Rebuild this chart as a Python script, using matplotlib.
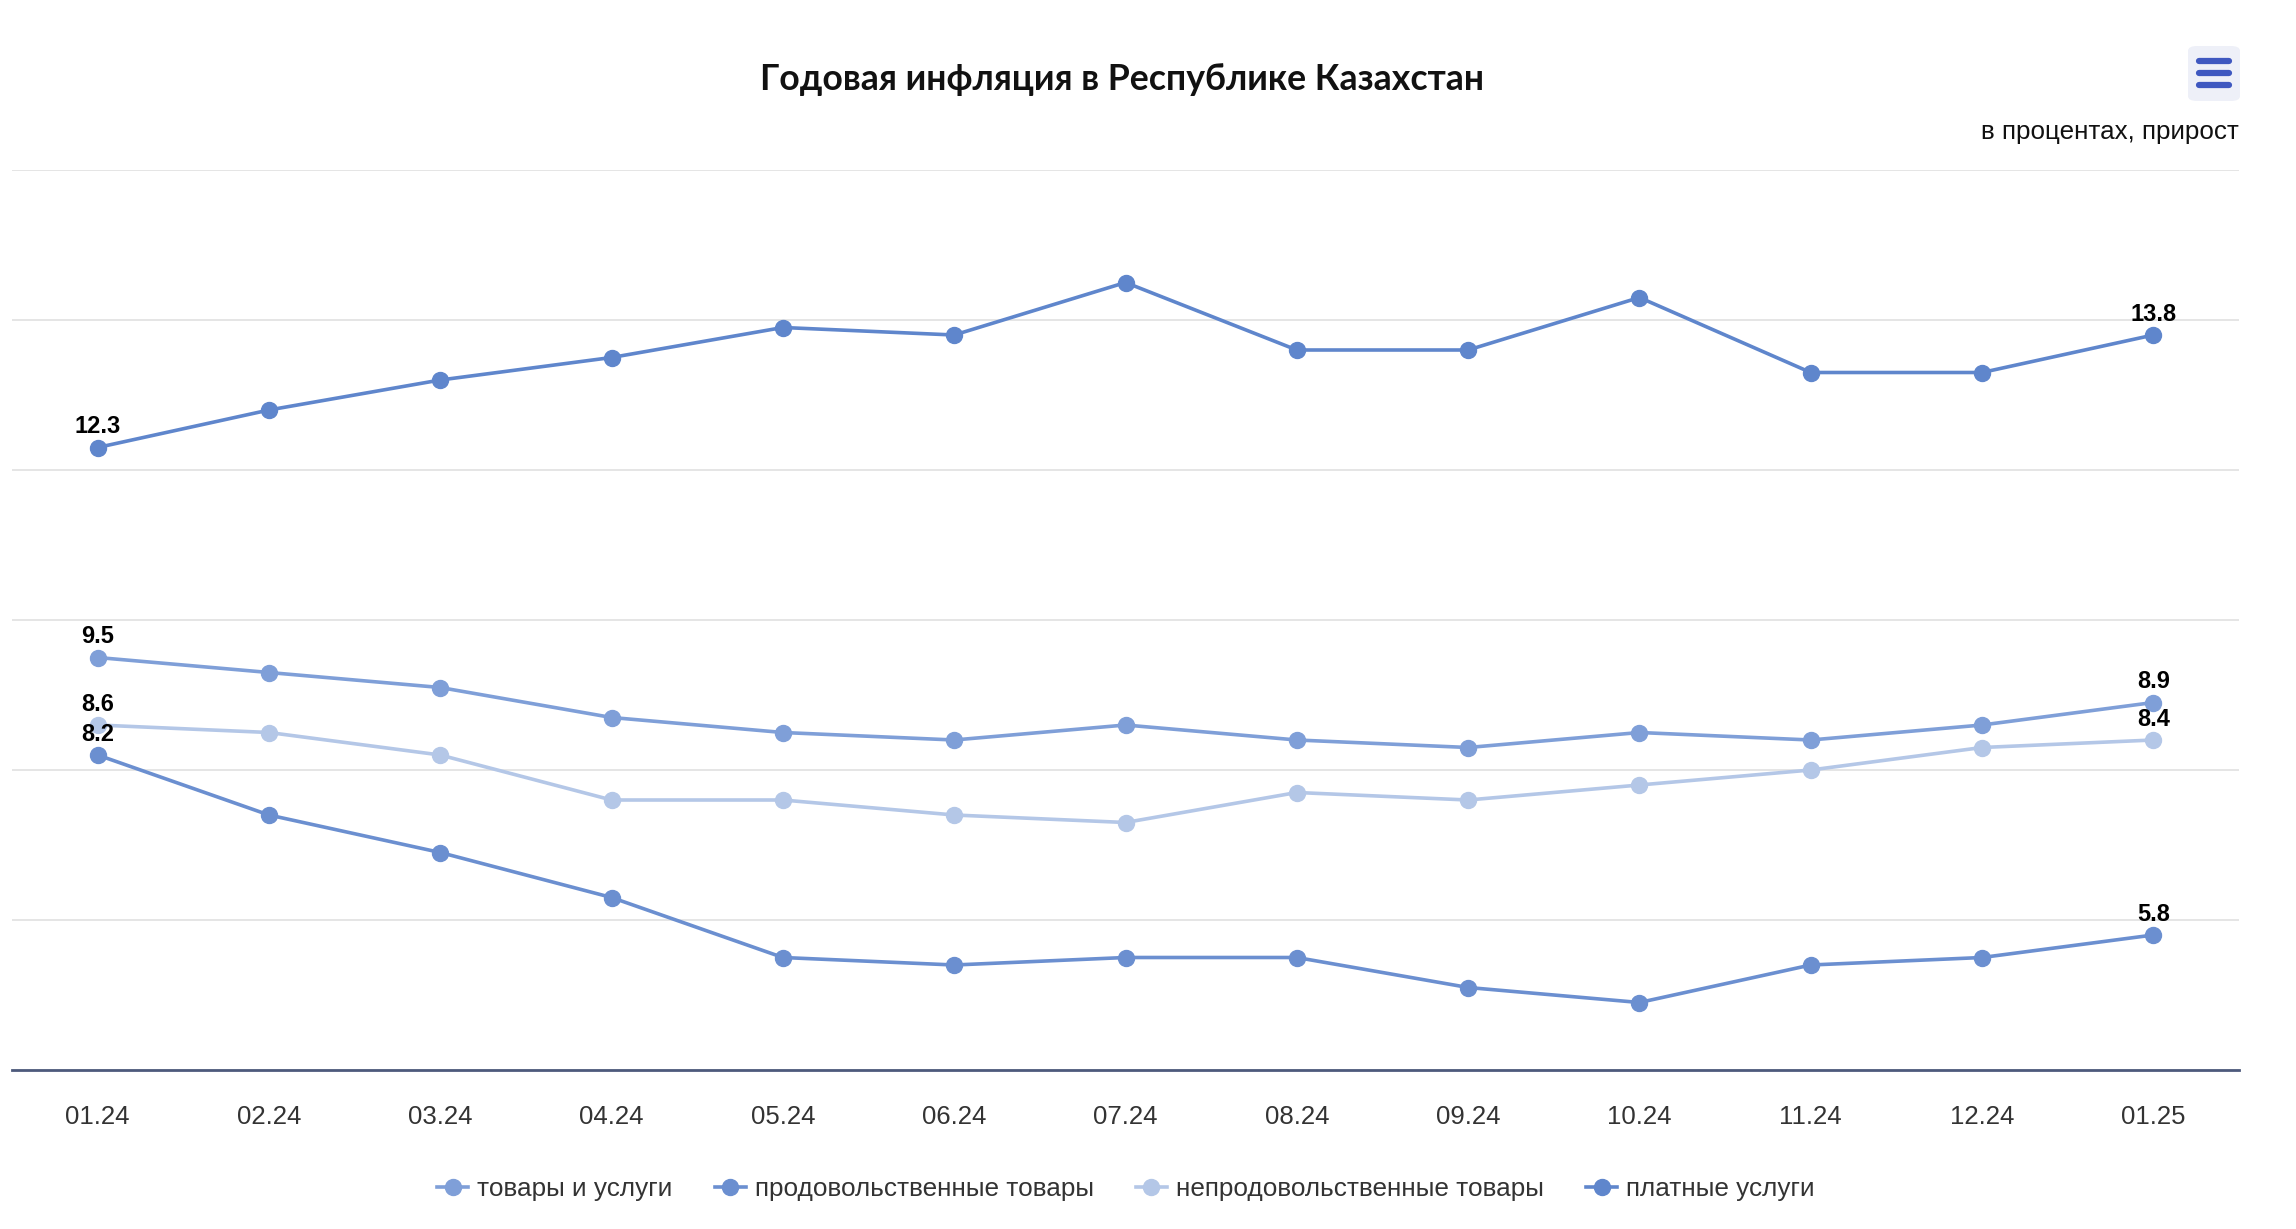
import matplotlib.pyplot as plt
from matplotlib.patches import FancyBboxPatch
from matplotlib.lines import Line2D

# Data
months = ["01.24", "02.24", "03.24", "04.24", "05.24", "06.24", "07.24",
          "08.24", "09.24", "10.24", "11.24", "12.24", "01.25"]
goods_services = [9.5, 9.3, 9.1, 8.7, 8.5, 8.4, 8.6, 8.4, 8.3, 8.5, 8.4, 8.6, 8.9]
food = [8.2, 7.4, 6.9, 6.3, 5.5, 5.4, 5.5, 5.5, 5.1, 4.9, 5.4, 5.5, 5.8]
nonfood = [8.6, 8.5, 8.2, 7.6, 7.6, 7.4, 7.3, 7.7, 7.6, 7.8, 8.0, 8.3, 8.4]
services = [12.3, 12.8, 13.2, 13.5, 13.9, 13.8, 14.5, 13.6, 13.6, 14.3, 13.3, 13.3, 13.8]

series_names = ["товары и услуги", "продовольственные товары",
                "непродовольственные товары", "платные услуги"]
series_values = [goods_services, food, nonfood, services]
series_colors = ["#7f9fd8", "#6b8fd0", "#b4c7e7", "#5f86cc"]

W, H = 2296, 1229
fig = plt.figure(figsize=(W / 100, H / 100), dpi=100)
ax = fig.add_axes([12 / W, 1 - 1070 / H, (2239 - 12) / W, (1070 - 170) / H])

x = list(range(len(months)))
for name, vals, col in zip(series_names, series_values, series_colors):
    ax.plot(x, vals, color=col, lw=2.6, marker="o", markersize=11.5,
            label=name, solid_capstyle="round", zorder=3)
    # labels on first and last points
    for i in (0, len(vals) - 1):
        ax.annotate(f"{vals[i]:.1f}", (x[i], vals[i]), xytext=(0, 6.5),
                    textcoords="offset points", ha="center", va="bottom",
                    fontsize=17, fontweight="bold", color="black",
                    family="Liberation Sans", zorder=5)

ax.set_xlim(-0.5, len(months) - 0.5)
ax.set_ylim(4, 16)
ax.set_yticks([4, 6, 8, 10, 12, 14, 16])
ax.yaxis.grid(True, color="#e3e3e3", lw=1.3)
ax.set_axisbelow(True)
ax.tick_params(axis="y", left=False, labelleft=False)
ax.set_xticks(x)
ax.set_xticklabels(months, family="Liberation Sans", fontsize=18.5, color="#333333")
ax.tick_params(axis="x", length=0, pad=25)
for s in ["top", "right", "left"]:
    ax.spines[s].set_visible(False)
ax.spines["bottom"].set_color("#4d5a7c")
ax.spines["bottom"].set_linewidth(2)

fig.text(1122 / W, 1 - 80 / H, "Годовая инфляция в Республике Казахстан",
         ha="center", va="center", fontsize=25.7, fontweight="bold",
         family="Lato", color="#111111")
fig.text(2239 / W, 1 - 132 / H, "в процентах, прирост", ha="right",
         va="center", fontsize=18.7, family="Liberation Sans", color="#111111")

# legend
handles = [Line2D([0], [0], color=c, lw=2.6, marker="o", markersize=11.5)
           for c in series_colors]
fig.legend(handles, series_names, loc="center", ncol=4,
           bbox_to_anchor=(1126 / W, 1 - 1189 / H), frameon=False,
           prop={"family": "Liberation Sans", "size": 18.8},
           labelcolor="#333333", handlelength=1.2, handletextpad=0.35,
           columnspacing=1.6)

# menu button
btn = FancyBboxPatch((2188 / W, 1 - 101 / H), 52 / W, 55 / H,
                     boxstyle="round,pad=0,rounding_size=0.004",
                     transform=fig.transFigure, facecolor="#eef0f8",
                     edgecolor="none")
fig.patches.append(btn)
for yy in (61, 73, 85):
    fig.add_artist(Line2D([2199 / W, 2229 / W], [1 - yy / H, 1 - yy / H],
                          transform=fig.transFigure, color="#3f58c0",
                          lw=4.5, solid_capstyle="round"))

fig.savefig("out.png", dpi=100)
